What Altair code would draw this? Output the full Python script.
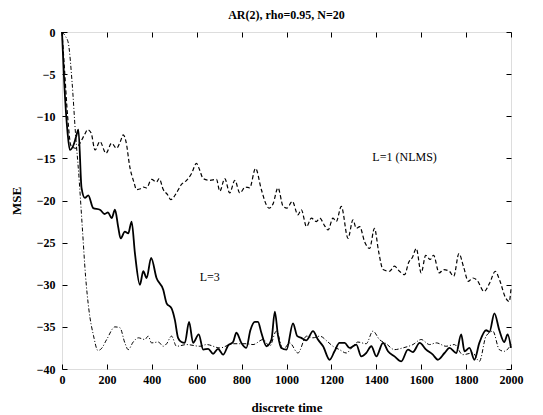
import altair as alt
import pandas as pd

# ---- data ----
t_l1 = [0, 10, 25, 40, 60, 80, 100, 115, 130, 147, 169, 196, 221, 243, 260, 273, 285, 302, 320, 332,
        350, 362, 376, 399, 421, 433, 451, 470, 485, 510, 532, 555, 577, 599, 612, 629, 658, 688, 703,
        725, 747, 770, 792, 817, 836, 862, 888, 910, 922, 940, 962, 985, 1002, 1026, 1051, 1066, 1089,
        1111, 1133, 1148, 1170, 1185, 1207, 1222, 1244, 1274, 1296, 1311, 1326, 1348, 1370, 1392, 1410,
        1430, 1459, 1481, 1503, 1526, 1545, 1560, 1578, 1600, 1620, 1640, 1655, 1680, 1700, 1725, 1745,
        1768, 1790, 1810, 1830, 1850, 1880, 1905, 1930, 1950, 1975, 1992, 2000]
mse_l1 = [0, -4, -10, -13.5, -13.8, -13.2, -12.2, -11.6, -12.0, -14.0, -13.0, -14.4, -13.2, -13.8, -13.0,
          -12.2, -13.0, -16.0, -17.8, -18.7, -18.6, -18.4, -18.5, -17.5, -17.8, -17.4, -18.7, -19.3, -19.9,
          -19.1, -18.1, -17.6, -16.8, -15.6, -16.3, -17.4, -17.6, -17.5, -18.9, -17.4, -19.1, -17.6, -19.1,
          -18.4, -18.5, -16.2, -18.7, -20.5, -20.9, -20.4, -18.5, -20.7, -20.9, -20.1, -21.7, -21.1, -23.1,
          -22.1, -22.5, -22.1, -23.0, -23.5, -22.1, -22.5, -20.7, -24.5, -22.3, -23.3, -23.1, -24.9, -25.7,
          -23.3, -26.0, -28.2, -28.4, -27.8, -28.4, -28.8, -27.3, -26.8, -25.7, -28.6, -26.5, -27.0, -26.5,
          -28.6, -28.2, -28.4, -29.0, -26.3, -28.0, -29.6, -29.2, -29.5, -30.8, -29.8, -28.4, -29.5, -31.5,
          -32.0, -30.5]

t_l3 = [0, 10, 25, 35, 50, 62, 73, 87, 102, 117, 139, 169, 190, 205, 221, 236, 250, 261, 280, 295, 310,
        325, 347, 362, 377, 397, 421, 451, 466, 488, 503, 517, 532, 547, 566, 584, 609, 629, 651, 673, 695,
        718, 740, 762, 777, 799, 821, 839, 859, 873, 888, 911, 933, 948, 962, 977, 1000, 1029, 1048, 1066,
        1089, 1118, 1140, 1163, 1192, 1214, 1236, 1259, 1281, 1311, 1333, 1355, 1378, 1400, 1430, 1452,
        1481, 1511, 1541, 1563, 1593, 1622, 1652, 1674, 1704, 1726, 1756, 1778, 1793, 1815, 1837, 1859,
        1889, 1904, 1926, 1948, 1970, 1985, 2000]
mse_l3 = [0, -6, -12, -14, -13.5, -12.5, -11.6, -18.5, -19.7, -19.4, -20.9, -21.1, -21.6, -21.4, -22.1,
          -21.1, -23.1, -24.5, -23.7, -23.9, -22.5, -26.3, -30.0, -28.4, -29.2, -26.8, -29.2, -30.6, -32.2,
          -32.8, -34.2, -36.3, -36.8, -36.9, -34.4, -36.9, -35.9, -37.7, -37.6, -38.2, -37.6, -38.3, -37.2,
          -36.8, -35.7, -36.9, -37.5, -35.4, -34.4, -34.4, -35.7, -37.3, -36.5, -33.2, -36.0, -37.5, -37.7,
          -34.6, -36.1, -36.3, -36.6, -35.5, -36.5, -37.3, -38.9, -37.9, -36.9, -36.9, -37.5, -37.1, -38.5,
          -38.1, -37.3, -38.5, -36.9, -37.9, -38.5, -39.1, -37.7, -38.0, -36.9, -37.7, -38.3, -38.9, -38.1,
          -37.5, -38.1, -35.9, -37.9, -37.5, -38.9, -36.9, -35.4, -35.6, -33.4, -35.4, -36.8, -35.9, -37.5]

t_ln = [0, 15, 28, 45, 60, 75, 90, 105, 120, 140, 160, 175, 199, 236, 258, 280, 295, 317, 340, 369, 384,
        399, 429, 451, 466, 488, 510, 555, 614, 644, 703, 762, 821, 851, 896, 925, 955, 985, 1014, 1051,
        1089, 1118, 1148, 1185, 1207, 1236, 1266, 1296, 1318, 1355, 1385, 1414, 1444, 1481, 1518, 1563,
        1600, 1637, 1667, 1711, 1748, 1785, 1830, 1859, 1889, 1919, 1948, 1970, 2000]
mse_ln = [0, -0.5, -1.3, -6, -12, -17, -23, -29, -33, -36, -37.8, -37.6, -36.5, -35.0, -35.1, -36.9, -37.7,
          -36.8, -36.3, -36.5, -36.1, -36.9, -36.8, -37.3, -37.0, -36.1, -37.3, -37.1, -37.3, -37.1, -37.5,
          -37.0, -37.0, -37.1, -36.5, -37.3, -35.5, -37.7, -36.9, -38.1, -36.1, -36.3, -36.1, -36.8, -37.3,
          -37.7, -38.1, -37.3, -36.8, -37.0, -35.5, -36.5, -37.0, -37.7, -37.5, -37.1, -36.5, -37.1, -36.9,
          -37.3, -37.1, -38.3, -38.1, -39.1, -36.1, -35.5, -37.7, -37.9, -37.1]

label_text = ["L=1 (NLMS)", "L=3"]
label_t = [1526, 658]
label_mse = [-14.8, -29.1]

FONT = "Liberation Serif"

df1 = pd.DataFrame({"t": t_l1, "mse": mse_l1})
df3 = pd.DataFrame({"t": t_l3, "mse": mse_l3})
dfn = pd.DataFrame({"t": t_ln, "mse": mse_ln})
dfl = pd.DataFrame({"text": label_text, "t": label_t, "mse": label_mse})

xscale = alt.Scale(domain=[0, 2000], nice=False, zero=False)
yscale = alt.Scale(domain=[-40, 0], nice=False, zero=False)

xaxis = alt.Axis(title="discrete time", values=list(range(0, 2001, 200)), format="d", domain=False,
                 offset=-5, tickSize=5, tickColor="black", tickWidth=1, labelPadding=5,
                 labelFont=FONT, labelFontSize=12, labelFontWeight="bold", labelColor="black",
                 titleFont=FONT, titleFontSize=13, titleFontWeight="bold", titleColor="black",
                 titlePadding=16, grid=False, labelFlush=False)
yaxis = alt.Axis(title="MSE", values=list(range(-40, 1, 5)), format="d", domain=False,
                 offset=-5, tickSize=5, tickColor="black", tickWidth=1, labelPadding=7,
                 labelFont=FONT, labelFontSize=12, labelFontWeight="bold", labelColor="black",
                 titleFont=FONT, titleFontSize=13, titleFontWeight="bold", titleColor="black",
                 titlePadding=13, grid=False, labelFlush=False)

X = alt.X("t:Q", scale=xscale, axis=xaxis)
Y = alt.Y("mse:Q", scale=yscale, axis=yaxis)

l1 = alt.Chart(df1).mark_line(color="black", strokeWidth=1.2, strokeDash=[4, 2.5],
                              interpolate="monotone").encode(x=X, y=Y)
l3 = alt.Chart(df3).mark_line(color="black", strokeWidth=1.8,
                              interpolate="monotone").encode(x=X, y=Y)
ln = alt.Chart(dfn).mark_line(color="black", strokeWidth=1, strokeDash=[4, 2, 1, 2],
                              interpolate="monotone").encode(x=X, y=Y)
txt = alt.Chart(dfl).mark_text(font=FONT, fontSize=12, color="black", align="center",
                               baseline="middle").encode(x=X, y=Y, text="text:N")

lines = alt.layer(l1, l3, ln, txt)

xaxis2 = alt.Axis(orient="top", title=None, labels=False, values=list(range(0, 2001, 200)),
                  domain=False, offset=-5, tickSize=5, tickColor="black", grid=False)
yaxis2 = alt.Axis(orient="right", title=None, labels=False, values=list(range(-40, 1, 5)),
                  domain=False, offset=-5, tickSize=5, tickColor="black", grid=False)
ghost = alt.Chart(df1).mark_point(opacity=0).encode(
    x=alt.X("t:Q", scale=xscale, axis=xaxis2),
    y=alt.Y("mse:Q", scale=yscale, axis=yaxis2))

chart = alt.layer(lines, ghost).resolve_scale(x="independent", y="independent").properties(
    width=449, height=337,
    title=alt.TitleParams("AR(2), rho=0.95, N=20", font=FONT, fontSize=12, fontWeight="bold",
                          color="black", offset=4, anchor="middle"),
    autosize=alt.AutoSizeParams(type="none"),
    padding={"left": 54, "top": 24, "right": 20, "bottom": 46},
).configure_view(stroke="black", strokeWidth=1.5).configure(background="white")

chart.save("out.html", embed_options={"renderer": "svg", "actions": False})
